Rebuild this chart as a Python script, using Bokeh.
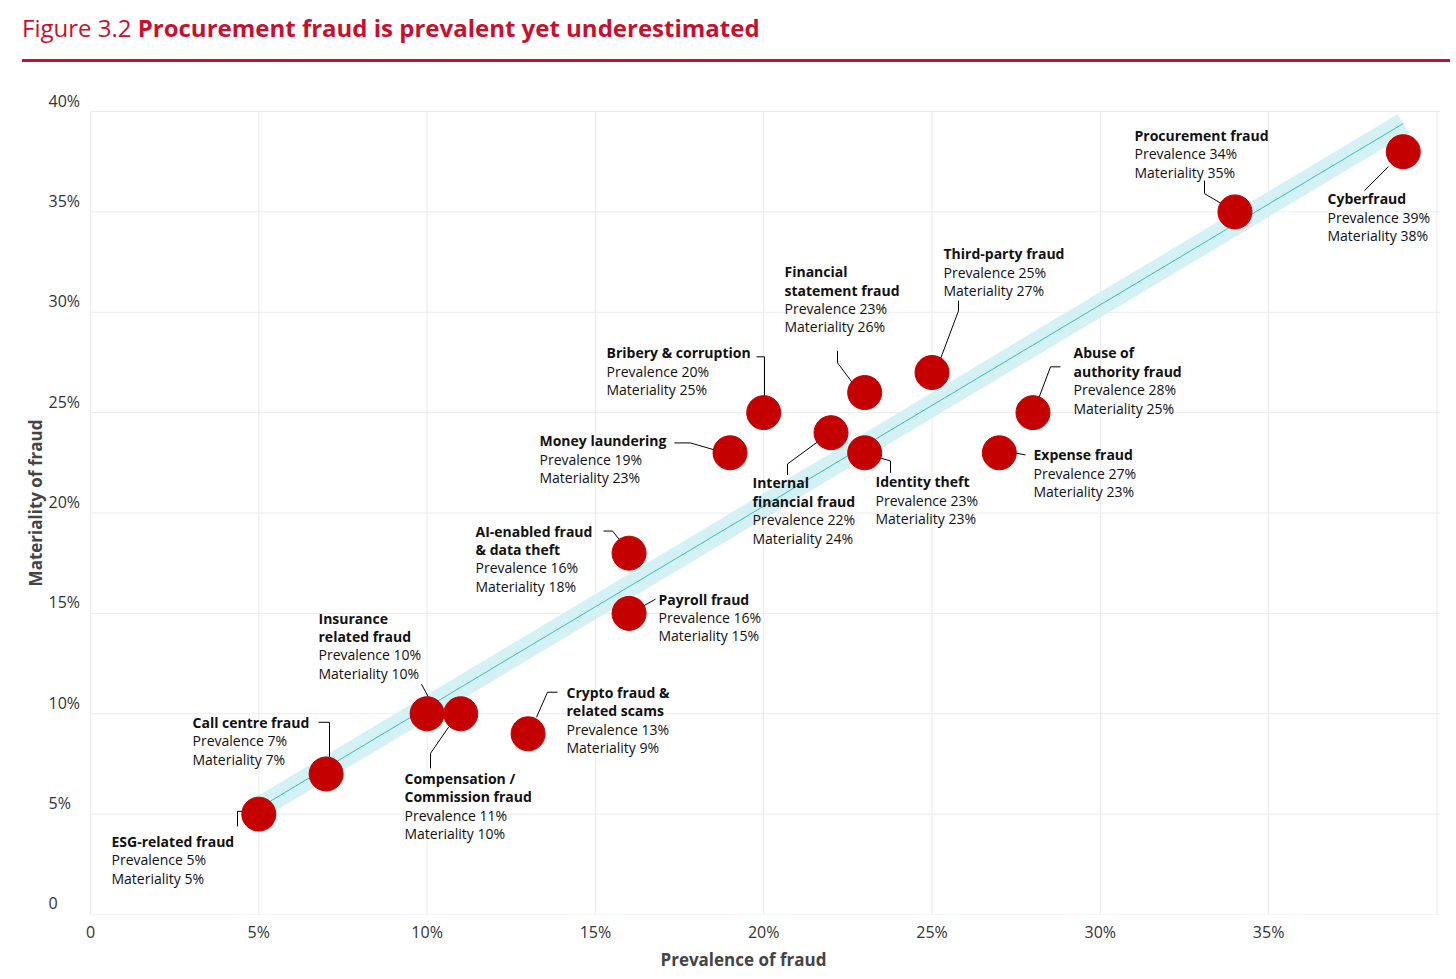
from bokeh.plotting import figure
from bokeh.models import Div, Range1d, FixedTicker
from bokeh.layouts import column
from bokeh.core.properties import value
from bokeh.embed import file_html
from bokeh.resources import INLINE

names = ["ESG-related fraud", "Call centre fraud", "Insurance related fraud", "Compensation / Commission fraud",
         "Crypto fraud & related scams", "AI-enabled fraud & data theft", "Payroll fraud", "Money laundering",
         "Bribery & corruption", "Internal financial fraud", "Financial statement fraud", "Identity theft",
         "Third-party fraud", "Expense fraud", "Abuse of authority fraud", "Procurement fraud", "Cyberfraud"]
prevalence = [5, 7, 10, 11, 13, 16, 16, 19, 20, 22, 23, 23, 25, 27, 28, 34, 39]
materiality = [5, 7, 10, 10, 9, 18, 15, 23, 25, 24, 26, 23, 27, 23, 25, 35, 38]
title_lines = [["ESG-related fraud"], ["Call centre fraud"], ["Insurance", "related fraud"],
               ["Compensation /", "Commission fraud"], ["Crypto fraud &", "related scams"],
               ["AI-enabled fraud", "& data theft"], ["Payroll fraud"], ["Money laundering"],
               ["Bribery & corruption"], ["Internal", "financial fraud"], ["Financial", "statement fraud"],
               ["Identity theft"], ["Third-party fraud"], ["Expense fraud"], ["Abuse of", "authority fraud"],
               ["Procurement fraud"], ["Cyberfraud"]]
x_ticks = [0, 5, 10, 15, 20, 25, 30, 35]
x_tick_labels = ["0", "5%", "10%", "15%", "20%", "25%", "30%", "35%"]
y_ticks = [0, 5, 10, 15, 20, 25, 30, 35, 40]
y_tick_labels = ["0", "5%", "10%", "15%", "20%", "25%", "30%", "35%", "40%"]

label_pos = [(111, 830), (192, 711), (318, 607), (404, 767), (566, 681), (475, 520), (658, 588), (539, 430),
             (606, 342), (752, 472), (784, 261), (875, 471), (943, 243), (1033, 444), (1073, 342), (1134, 125),
             (1327, 188)]
leaders = [[(250, 800), (237, 800), (237, 815)], [(318, 711), (329, 711), (329, 746)],
           [(421, 673), (429, 688)], [(430, 757), (430, 742), (448, 716)],
           [(557, 681), (547, 681), (536, 706)], [(603, 520), (612, 520), (620, 530)],
           [(655, 588), (641, 596)], [(674, 432), (690, 432), (714, 439)],
           [(756, 346), (764, 346), (764, 386)], [(787, 464), (787, 453), (817, 431)],
           [(837, 340), (837, 352), (852, 372)], [(890, 462), (890, 450), (876, 446)],
           [(958, 290), (958, 300), (940, 348)], [(1025, 444), (1015, 442)],
           [(1060, 356), (1050, 356), (1038, 388)], [(1204, 170), (1204, 183), (1221, 193)],
           [(1364, 180), (1388, 156)]]

X0, XS = 90.0, 33.66
Y0, YS = 903.0, 20.05
def dx(px): return (px - X0) / XS
def dy(py): return (Y0 - py) / YS
LH = 18.4

FONT = "Open Sans"
title = Div(text='<div style="font-family:\'Open Sans\';font-size:24px;color:#c8102e;margin-left:17px;'
                 'padding-top:6px;height:57px;border-bottom:3px solid #c8102e;width:1428px;box-sizing:border-box">'
                 'Figure 3.2 <b>Procurement fraud is prevalent yet underestimated</b></div>',
            width=1440, height=66)

p = figure(width=1440, height=897, output_backend="svg", toolbar_location=None,
           x_range=Range1d(dx(46), dx(1440)), y_range=Range1d(dy(903), dy(81)),
           min_border_left=46, min_border_right=0, min_border_top=15, min_border_bottom=50)
p.outline_line_color = None
p.xgrid.grid_line_color = None
p.ygrid.grid_line_color = None

for t in x_ticks + [40]:
    p.segment(t, 0, t, dy(101), line_color="#ececec", line_width=1)
for t in y_ticks:
    p.segment(0, t, dx(1440), t, line_color="#ececec", line_width=1)

p.xaxis.ticker = FixedTicker(ticks=x_ticks)
p.xaxis.major_label_overrides = {t: l for t, l in zip(x_ticks, x_tick_labels)}
p.xaxis.axis_line_color = None
p.xaxis.major_tick_line_color = None
p.xaxis.minor_tick_line_color = None
p.xaxis.major_label_text_font = FONT
p.xaxis.major_label_text_font_size = "16px"
p.xaxis.major_label_text_color = "#333333"
p.xaxis.major_label_standoff = 0
p.xaxis.axis_label = "Prevalence of fraud"
p.xaxis.axis_label_text_font = FONT
p.xaxis.axis_label_text_font_style = "bold"
p.xaxis.axis_label_text_font_size = "17px"
p.xaxis.axis_label_standoff = 2

p.yaxis.ticker = FixedTicker(ticks=[])
p.yaxis.axis_line_color = None
p.yaxis.major_tick_line_color = None
p.yaxis.minor_tick_line_color = None
p.yaxis.axis_label = "Materiality of fraud"
p.yaxis.axis_label_text_font = FONT
p.yaxis.axis_label_text_font_style = "bold"
p.yaxis.axis_label_text_font_size = "17px"
p.yaxis.axis_label_standoff = 0

p.text([dx(48)] * len(y_ticks), [t + 11 / YS for t in y_ticks], text=y_tick_labels,
       text_font=value(FONT), text_font_size="16px", text_color="#333333",
       text_baseline="middle", text_align="left")

p.line([4.8, 39.0], [5.1, 39.4], line_color="#d4f2f5", line_width=22, line_cap="butt")
p.line([4.8, 39.0], [5.1, 39.4], line_color="#35bfc8", line_width=1)

p.multi_line([[dx(a) for a, b in L] for L in leaders], [[dy(b) for a, b in L] for L in leaders],
             line_color="black", line_width=1)

p.scatter(prevalence, materiality, size=34, color="#c40000", line_color="#c40000")

bx, by, bt, nx, ny, nt = [], [], [], [], [], []
for (lx, ly), tl, pv, mt in zip(label_pos, title_lines, prevalence, materiality):
    for i, t in enumerate(tl):
        bx.append(dx(lx)); by.append(dy(ly + i * LH)); bt.append(t)
    k = len(tl)
    nx += [dx(lx), dx(lx)]
    ny += [dy(ly + k * LH), dy(ly + (k + 1) * LH)]
    nt += ["Prevalence %d%%" % pv, "Materiality %d%%" % mt]
p.text(bx, by, text=bt, text_font=value(FONT), text_font_style="bold", text_font_size="14px",
       text_color="#111111", text_baseline="middle", text_align="left")
p.text(nx, ny, text=nt, text_font=value(FONT), text_font_size="14px",
       text_color="#111111", text_baseline="middle", text_align="left")

layout = column(title, p, spacing=0)
open("out.html", "w").write(file_html(layout, INLINE))
